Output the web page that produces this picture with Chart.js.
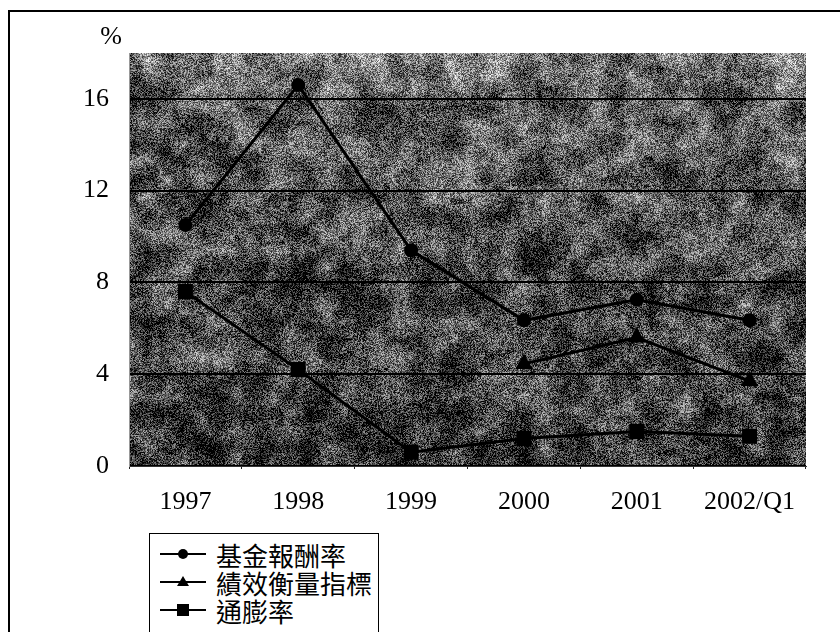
<!DOCTYPE html>
<html>
<head>
<meta charset="utf-8">
<script src="https://cdn.jsdelivr.net/npm/chart.js@4.4.1/dist/chart.umd.min.js"></script>
<style>
  body { margin: 0; background: #fff; }
  #wrap { position: relative; width: 840px; height: 632px; overflow: hidden; }
  #frame { position: absolute; left: 8px; top: 10px; width: 900px; height: 700px;
           border-left: 2px solid #000; border-top: 2px solid #000; }
  #chart { position: absolute; left: 0; top: 0; }
  #legend { position: absolute; left: 149px; top: 533px; width: 230px; height: 140px;
            border: 1.5px solid #000; background: #fff; padding-top: 6px; box-sizing: border-box; }
  #legend .row { display: flex; align-items: center; height: 28px;
                 font-family: "Noto Sans CJK TC", sans-serif; font-size: 26px; color: #000; }
  #legend svg { margin-left: 10px; margin-right: 10px; flex: none; }
</style>
</head>
<body>
<div id="wrap">
  <div id="frame"></div>
  <canvas id="chart" width="840" height="632"></canvas>
  <div id="legend"></div>
</div>
<script>
// 資料
const years = ['1997', '1998', '1999', '2000', '2001', '2002/Q1'];
const fundReturn = [10.5, 16.6, 9.4, 6.35, 7.25, 6.35];      // 基金報酬率
const benchmark = [null, null, null, 4.45, 5.6, 3.7];         // 績效衡量指標
const inflation = [7.6, 4.2, 0.6, 1.2, 1.5, 1.3];             // 通膨率
const yTicks = [0, 4, 8, 12, 16];
const seriesNames = ['基金報酬率', '績效衡量指標', '通膨率'];

// deterministic grainy background for the plot area
function hash(x, y) {
  const s = Math.sin(x * 12.9898 + y * 78.233) * 43758.5453;
  return s - Math.floor(s);
}

function smooth(x, y, cell) {
  const gx = x / cell, gy = y / cell;
  const x0 = Math.floor(gx), y0 = Math.floor(gy);
  const fx = gx - x0, fy = gy - y0;
  const a = hash(x0, y0), b = hash(x0 + 1, y0), c = hash(x0, y0 + 1), d = hash(x0 + 1, y0 + 1);
  const top = a + (b - a) * fx, bot = c + (d - c) * fx;
  return top + (bot - top) * fy - 0.5;
}

const texturePlugin = {
  id: 'texture',
  beforeDraw(chart) {
    const { ctx, chartArea: a } = chart;
    const w = Math.round(a.right - a.left), h = Math.round(a.bottom - a.top);
    const off = document.createElement('canvas');
    off.width = w; off.height = h;
    const octx = off.getContext('2d');
    const img = octx.createImageData(w, h);
    for (let y = 0; y < h; y++) {
      const t = y / h;
      const base = t < 0.1 ? 120 - t * 250 : 92 - t * 35;
      for (let x = 0; x < w; x++) {
        const n = hash(x, y) - 0.5;
        const m = smooth(x, y, 18) + smooth(x + 500, y + 300, 7) * 0.6;
        let v = base + n * 170 + m * 110;
        v = Math.max(0, Math.min(255, v));
        const i = (y * w + x) * 4;
        img.data[i] = img.data[i + 1] = img.data[i + 2] = v;
        img.data[i + 3] = 255;
      }
    }
    octx.putImageData(img, 0, 0);
    ctx.drawImage(off, a.left, a.top);
  },
  afterDraw(chart) {
    const { ctx, chartArea: a } = chart;
    ctx.save();
    ctx.font = '26px "Liberation Serif", serif';
    ctx.fillStyle = '#000';
    ctx.textAlign = 'center';
    ctx.textBaseline = 'middle';
    ctx.fillText('%', a.left - 18, a.top - 16);
    ctx.restore();
  }
};

const common = {
  borderColor: '#000',
  backgroundColor: '#000',
  borderWidth: 3,
  pointBorderColor: '#000',
  pointBackgroundColor: '#000',
  tension: 0
};

new Chart(document.getElementById('chart').getContext('2d'), {
  type: 'line',
  data: {
    labels: years,
    datasets: [
      Object.assign({ label: seriesNames[0], data: fundReturn, pointStyle: 'circle', pointRadius: 5.5 }, common),
      Object.assign({ label: seriesNames[1], data: benchmark, pointStyle: 'triangle', pointRadius: 7 }, common),
      Object.assign({ label: seriesNames[2], data: inflation, pointStyle: 'rect', pointRadius: 8.5 }, common)
    ]
  },
  options: {
    responsive: false,
    animation: false,
    devicePixelRatio: 1,
    layout: { padding: { left: 20, top: 53, right: 34, bottom: 0 } },
    plugins: { legend: { display: false }, tooltip: { enabled: false } },
    scales: {
      x: {
        offset: true,
        grid: { display: true, drawOnChartArea: false, drawTicks: true, tickLength: 3, offset: true, color: '#222' },
        border: { color: '#333', width: 1 },
        ticks: { color: '#000', padding: 18, maxRotation: 0, font: { family: '"Liberation Serif", serif', size: 26 } },
        afterFit(scale) { scale.height = 166; }
      },
      y: {
        min: 0,
        max: 18,
        afterBuildTicks(scale) { scale.ticks = yTicks.map(v => ({ value: v })); },
        grid: { color: '#000', lineWidth: 2, drawTicks: false },
        border: { color: '#999', width: 1 },
        ticks: { color: '#000', padding: 20, font: { family: '"Liberation Serif", serif', size: 26 } },
        afterFit(scale) { scale.width = 109; }
      }
    }
  },
  plugins: [texturePlugin]
});

// legend
const markers = [
  '<circle cx="23" cy="14" r="5" fill="#000"/>',
  '<polygon points="23,8 29,18 17,18" fill="#000"/>',
  '<rect x="17" y="8" width="12" height="12" fill="#000"/>'
];
const legend = document.getElementById('legend');
seriesNames.forEach((name, i) => {
  const row = document.createElement('div');
  row.className = 'row';
  row.innerHTML = '<svg width="46" height="28"><line x1="0" y1="14" x2="46" y2="14" stroke="#000" stroke-width="2"/>' +
    markers[i] + '</svg><span>' + name + '</span>';
  legend.appendChild(row);
});
</script>
</body>
</html>
